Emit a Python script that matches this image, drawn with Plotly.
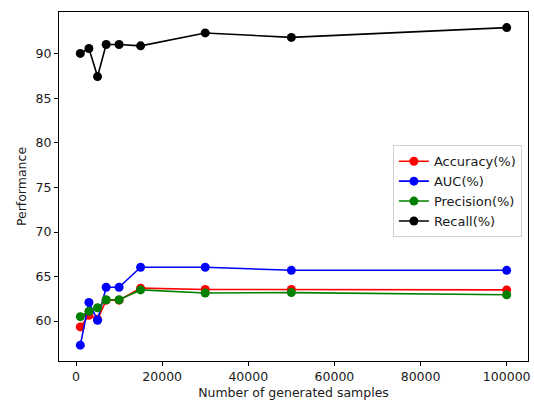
import plotly.graph_objects as go

samples = [1000, 3000, 5000, 7000, 10000, 15000, 30000, 50000, 100000]
accuracy = [59.35, 60.65, 60.2, 62.35, 62.35, 63.7, 63.55, 63.55, 63.5]
auc = [57.3, 62.1, 60.1, 63.8, 63.8, 66.05, 66.05, 65.7, 65.7]
precision = [60.5, 61.1, 61.5, 62.4, 62.4, 63.5, 63.15, 63.2, 62.95]
recall = [90.05, 90.6, 87.45, 91.05, 91.05, 90.9, 92.35, 91.85, 92.95]

series = [
    ("Accuracy(%)", accuracy, "red"),
    ("AUC(%)", auc, "blue"),
    ("Precision(%)", precision, "green"),
    ("Recall(%)", recall, "black"),
]

fig = go.Figure()
for name, vals, color in series:
    fig.add_trace(go.Scatter(
        x=samples, y=vals, name=name, mode="lines+markers",
        line=dict(color=color, width=1.6),
        marker=dict(color=color, size=9),
    ))

font = dict(family="DejaVu Sans", size=12.5, color="#1a1a1a")
axis_common = dict(
    showline=True, linecolor="#000000", linewidth=1, mirror=True,
    ticks="outside", ticklen=4, tickcolor="#000000", tickwidth=1,
    showgrid=False, zeroline=False, tickfont=font, automargin=False,
)
fig.update_xaxes(
    range=[-3950, 104950], tickvals=[0, 20000, 40000, 60000, 80000, 100000],
    ticktext=["0", "20000", "40000", "60000", "80000", "100000"],
    title=dict(text="Number of generated samples", font=font, standoff=6),
    **axis_common,
)
fig.update_yaxes(
    range=[55.52, 94.7], tickvals=[60, 65, 70, 75, 80, 85, 90],
    title=dict(text="Performance", font=font, standoff=6),
    **axis_common,
)
fig.update_layout(
    width=534, height=400,
    margin=dict(l=59, r=6, t=12, b=39),
    plot_bgcolor="white", paper_bgcolor="white",
    font=font,
    legend=dict(
        x=0.987, y=0.618, xanchor="right", yanchor="top",
        bordercolor="#d0d0d0", borderwidth=1, bgcolor="rgba(255,255,255,0.8)",
        font=dict(family="DejaVu Sans", size=13, color="#1a1a1a"),
        itemwidth=30, tracegroupgap=0,
    ),
)
fig.write_html(
    "out.html",
    config={"displayModeBar": False},
    post_script="document.body.style.margin='0';document.body.style.overflow='hidden';",
)
